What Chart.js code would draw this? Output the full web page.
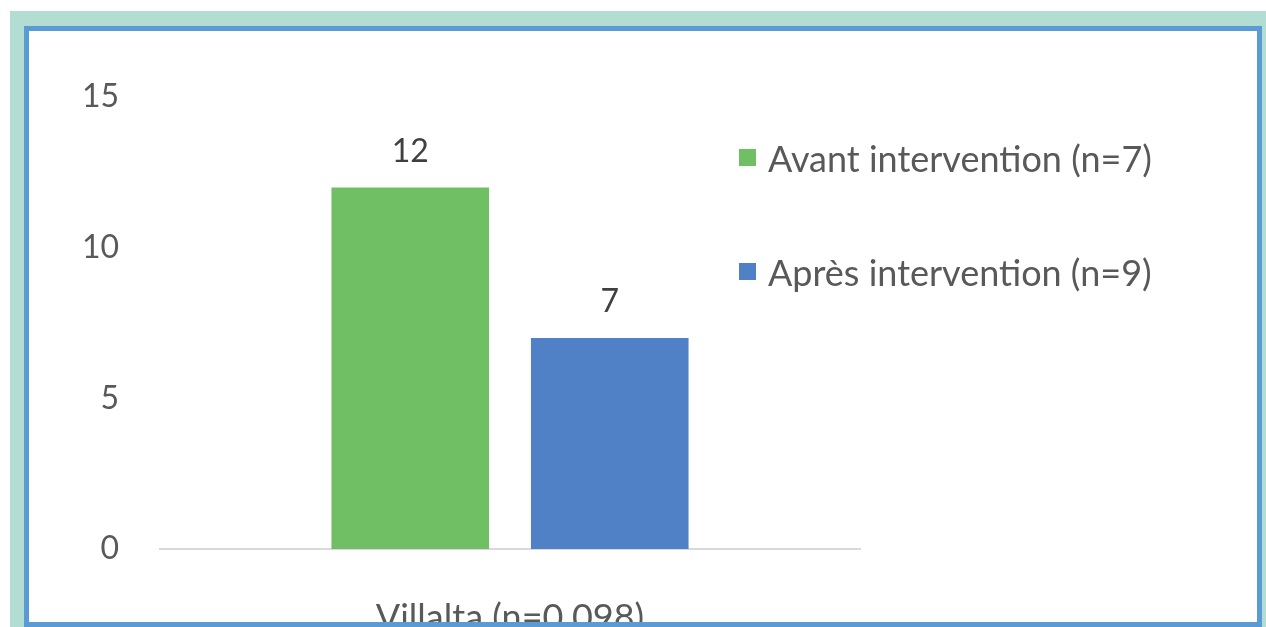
<!DOCTYPE html>
<html>
<head>
<meta charset="utf-8">
<script src="https://cdn.jsdelivr.net/npm/chart.js@4.4.1/dist/chart.umd.min.js"></script>
<style>
    body { margin: 0; background: #fff; width: 1266px; height: 627px; overflow: hidden; position: relative; }
    #bg { position: absolute; left: 10px; top: 11px; width: 1256px; height: 616px; background: #b1ddd3; }
    #panel { position: absolute; left: 24px; top: 26px; width: 1238px; height: 601px; background: #fff; }
    #wrap { position: absolute; left: 0; top: 0; width: 1266px; height: 627px; }
    #frame { position: absolute; left: 24px; top: 26px; width: 1238px; height: 601px; box-sizing: border-box; border: 5px solid #5b9bd5; pointer-events: none; }
</style>
</head>
<body>
<div id="bg"></div>
<div id="panel"></div>
<div id="wrap"><canvas id="myChart"></canvas></div>
<div id="frame"></div>
<script>
    const categories = ['Villalta (n=0.098)']
    const seriesNames = ['Avant intervention (n=7)', 'Après intervention (n=9)']
    const avant = [12]
    const apres = [7]
    const yTicks = [0, 5, 10, 15]

    const font = 'Lato'
    const textColor = '#595959'

    // values above the bars
    const barValues = {
        id: 'barValues',
        afterDatasetsDraw(chart) {
            const { ctx } = chart
            ctx.save()
            ctx.font = '32px ' + font
            ctx.fillStyle = '#404040'
            ctx.textAlign = 'center'
            ctx.textBaseline = 'middle'
            chart.data.datasets.forEach((ds, i) => {
                chart.getDatasetMeta(i).data.forEach((bar, j) => {
                    ctx.fillText(ds.data[j], bar.x, bar.y - 36)
                })
            })
            ctx.restore()
        }
    }

    // legend sits inside the plot, top right
    const sideLegend = {
        id: 'sideLegend',
        afterDraw(chart) {
            const { ctx } = chart
            ctx.save()
            ctx.font = '36px ' + font
            ctx.textBaseline = 'middle'
            chart.data.datasets.forEach((ds, i) => {
                const y = 157 + i * 114
                ctx.fillStyle = ds.backgroundColor
                ctx.fillRect(739, y - 8, 17, 17)
                ctx.fillStyle = textColor
                ctx.fillText(ds.label, 768, y + 3)
            })
            ctx.restore()
        }
    }

    const ctx = document.getElementById('myChart')
    new Chart(ctx, {
        type: 'bar',
        data: {
            labels: categories,
            datasets: [{
                label: seriesNames[0],
                data: avant,
                backgroundColor: '#70bf64'
            }, {
                label: seriesNames[1],
                data: apres,
                backgroundColor: '#5081c6'
            }]
        },
        options: {
            responsive: true,
            maintainAspectRatio: false,
            animation: false,
            categoryPercentage: 0.57,
            barPercentage: 0.79,
            layout: {
                padding: { left: 70, right: 406, top: 97, bottom: 0 }
            },
            plugins: {
                legend: { display: false },
                tooltip: { enabled: false }
            },
            scales: {
                x: {
                    grid: { display: false, drawTicks: false },
                    border: { display: true, color: '#d9d9d9', width: 2 },
                    ticks: {
                        padding: 48,
                        color: textColor,
                        font: { family: font, size: 36 }
                    },
                    afterFit(scale) { scale.height = 78 }
                },
                y: {
                    min: 0,
                    max: 15,
                    grid: { display: false, drawTicks: false },
                    border: { display: false },
                    afterBuildTicks(scale) {
                        scale.ticks = yTicks.map(v => ({ value: v }))
                    },
                    ticks: {
                        padding: 41,
                        color: textColor,
                        font: { family: font, size: 32 }
                    },
                    afterFit(scale) { scale.width = 90 }
                }
            }
        },
        plugins: [barValues, sideLegend]
    })
</script>
</body>
</html>
